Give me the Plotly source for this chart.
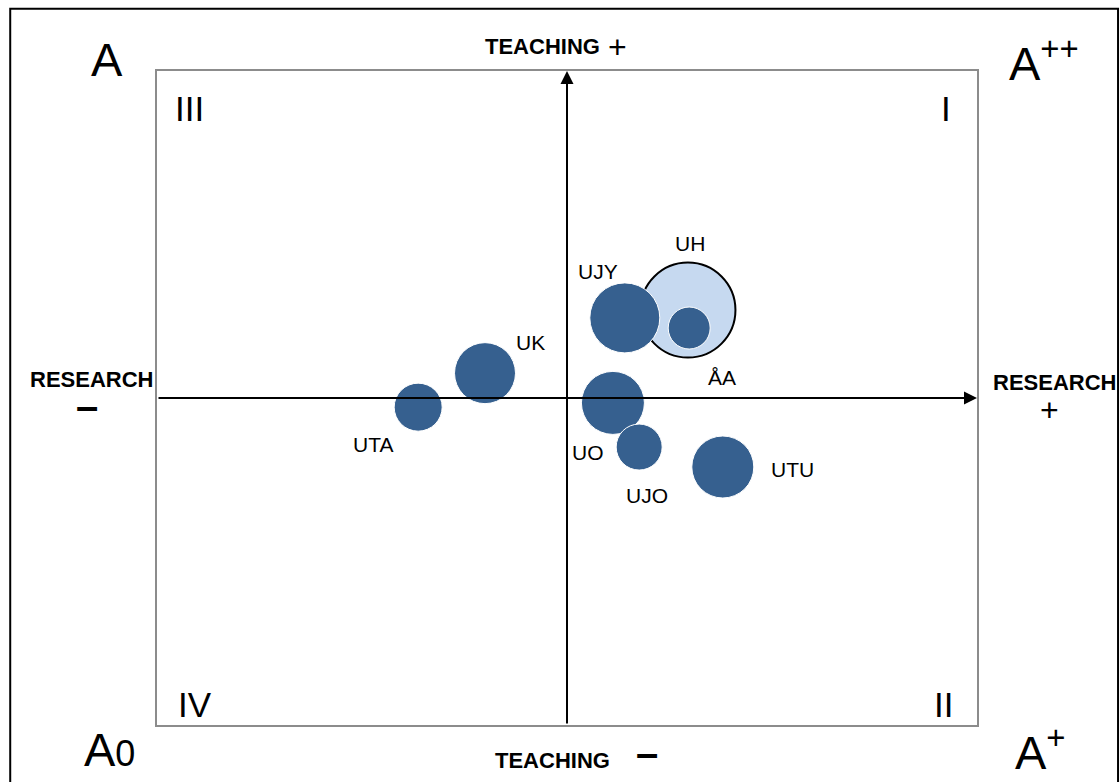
import plotly.graph_objects as go

# university positions on the research (x) / teaching (y) scale, -100..100
units = ['UH', 'UJY', 'ÅA', 'UK', 'UTA', 'UO', 'UJO', 'UTU']
research = [29.5, 14.1, 29.8, -20.0, -36.3, 11.2, 17.6, 38.0]
teaching = [26.9, 24.5, 21.4, 7.6, -2.8, -1.5, -15.0, -21.1]
volume = [95, 70, 42, 61, 48, 63, 46, 62]

# label offsets (px) relative to each bubble
label_dx = [2, -27, 33, 45, -45, -25, 8, 70]
label_dy = [67, 46, -49, 31, -37, -50, -48, -2]

DARK = '#36608f'
LIGHT = '#c6d9f0'
FONT = 'Liberation Sans, Arial, sans-serif'

fig = go.Figure()

# UH drawn as a big light circle behind everything else
fig.add_trace(go.Scatter(
    x=research[:1], y=teaching[:1], mode='markers',
    marker=dict(size=volume[:1], color=LIGHT, opacity=1, line=dict(color='black', width=2)),
    hoverinfo='skip', showlegend=False))

fig.add_trace(go.Scatter(
    x=research[1:], y=teaching[1:], mode='markers',
    marker=dict(size=volume[1:], color=DARK, opacity=1, line=dict(color='white', width=1)),
    hoverinfo='skip', showlegend=False))

for u, x, y, dx, dy in zip(units, research, teaching, label_dx, label_dy):
    fig.add_annotation(x=x, y=y, text=u, showarrow=False, xshift=dx, yshift=dy,
                       font=dict(family=FONT, size=21, color='black'))

# arrowed axes
fig.add_annotation(x=0, y=100, ax=0, ay=-100, axref='x', ayref='y', text='',
                   showarrow=True, arrowhead=2, arrowsize=1.3, arrowwidth=2, arrowcolor='black')
fig.add_annotation(x=100, y=0, ax=-100, ay=0, axref='x', ayref='y', text='',
                   showarrow=True, arrowhead=2, arrowsize=1.3, arrowwidth=2, arrowcolor='black')

def paper_text(text, x, y, size, bold=False, xanchor='center'):
    if bold:
        text = '<b>' + text + '</b>'
    fig.add_annotation(xref='paper', yref='paper', x=x, y=y, text=text, showarrow=False,
                       xanchor=xanchor, yanchor='middle',
                       font=dict(family=FONT, size=size, color='black'))

# corner grades
paper_text('A', -0.083, 1.017, 47, xanchor='left')
paper_text('A<sup>++</sup>', 1.037, 1.017, 47, xanchor='left')
paper_text('A<span style="font-size:36px">0</span>', -0.091, -0.037, 47, xanchor='left')
paper_text('A<sup>+</sup>', 1.044, -0.037, 47, xanchor='left')

# quadrant numerals
paper_text('III', 0.040, 0.942, 35)
paper_text('I', 0.962, 0.942, 35)
paper_text('IV', 0.046, 0.031, 35)
paper_text('II', 0.959, 0.031, 35)

# axis captions
paper_text('TEACHING', 0.470, 1.037, 22, bold=True)
paper_text('+', 0.562, 1.037, 32)
paper_text('TEACHING', 0.482, -0.055, 22, bold=True)
paper_text('–', 0.598, -0.043, 40, bold=True)
paper_text('RESEARCH', -0.080, 0.529, 22, bold=True)
paper_text('–', -0.085, 0.488, 40, bold=True)
paper_text('RESEARCH', 1.094, 0.524, 22, bold=True)
paper_text('+', 1.088, 0.482, 32)

# outer frame
fig.add_shape(type='rect', xref='paper', yref='paper', x0=-0.179, x1=1.172, y0=-0.1, y1=1.095,
              line=dict(color='black', width=2), fillcolor='rgba(0,0,0,0)', layer='below')

axis_style = dict(range=[-100, 100], showgrid=False, zeroline=False, showticklabels=False,
                  ticks='', showline=True, mirror=True, linecolor='#8c8c8c', linewidth=2,
                  fixedrange=True)

fig.update_layout(
    width=1120, height=782,
    margin=dict(l=157, r=143, t=71, b=57),
    paper_bgcolor='white', plot_bgcolor='white',
    xaxis=axis_style, yaxis=axis_style,
    font=dict(family=FONT),
)

fig.write_html('out.html', config={'displayModeBar': False},
               post_script="document.body.style.margin='0';document.body.style.overflow='hidden';")
